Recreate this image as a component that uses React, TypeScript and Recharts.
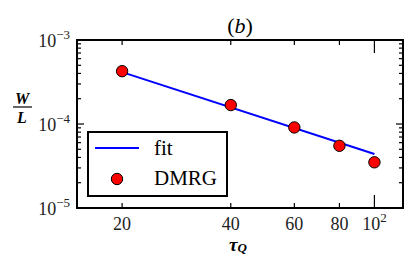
import { ComposedChart, Line, Scatter, XAxis, YAxis, ReferenceArea, Legend, Customized } from 'recharts';

// tau_Q values and measured W/L
const tauQ = [20, 40, 60, 80, 100];
const dmrgW = [4.25e-4, 1.68e-4, 9.1e-5, 5.5e-5, 3.5e-5];

// power-law fit, end points
const fitTau = [20, 100];
const fitW = [4.15e-4, 4.4e-5];

const legendOrder = ['fit', 'DMRG'];

const xTicks = [20, 40, 60, 80, 100];
const yDecades = [1e-5, 1e-4, 1e-3];
const yTicks = [
  1e-5, 2e-5, 3e-5, 4e-5, 5e-5, 6e-5, 7e-5, 8e-5, 9e-5,
  1e-4, 2e-4, 3e-4, 4e-4, 5e-4, 6e-4, 7e-4, 8e-4, 9e-4, 1e-3,
];

const dmrgData = tauQ.map((t, i) => ({ tau: t, w: dmrgW[i] }));
const fitData = fitTau.map((t, i) => ({ tau: t, w: fitW[i] }));

const W = 415;
const H = 269;
const PLOT_W = 326;
const PLOT_H = 168;
const FONT = '"Liberation Serif", serif';

function isDecade(v: number) {
  return yDecades.some((d) => Math.abs(v / d - 1) < 1e-6);
}

function XTick(props: any) {
  const { x, y, payload } = props;
  const v = payload.value;
  const major = v === 100;
  const len = major ? 13 : 5;
  return (
    <g>
      <line x1={x} y1={y} x2={x} y2={y - len} stroke="#000" strokeWidth={1.2} />
      <line x1={x} y1={y - PLOT_H} x2={x} y2={y - PLOT_H + len} stroke="#000" strokeWidth={1.2} />
      <text x={x} y={y + 16} textAnchor="middle" dominantBaseline="central" fontFamily={FONT} fontSize={18} fill="#222">
        {major ? (
          <>
            10<tspan dy={-7} fontSize={13}>2</tspan>
          </>
        ) : (
          v
        )}
      </text>
    </g>
  );
}

function YTick(props: any) {
  const { x, y, payload } = props;
  const v = payload.value;
  const major = isDecade(v);
  const len = major ? 7 : 4;
  const exp = Math.round(Math.log10(v));
  return (
    <g>
      <line x1={x} y1={y} x2={x + len} y2={y} stroke="#000" strokeWidth={1.2} />
      <line x1={x + PLOT_W} y1={y} x2={x + PLOT_W - len} y2={y} stroke="#000" strokeWidth={1.2} />
      {major && (
        <text x={x - 7} y={y + 1} textAnchor="end" dominantBaseline="central" fontFamily={FONT} fontSize={18} fill="#222">
          10<tspan dy={-7} fontSize={13}>{'\u2212' + Math.abs(exp)}</tspan>
        </text>
      )}
    </g>
  );
}

function Labels() {
  return (
    <g fontFamily={FONT} fill="#000">
      <text x={240} y={25} textAnchor="middle" dominantBaseline="central" fontSize={22}>
        (<tspan fontStyle="italic">b</tspan>)
      </text>
      <text x={238} y={244} textAnchor="middle" dominantBaseline="central" fontSize={19} fontWeight="bold" fontStyle="italic">
        τ<tspan dy={3} fontSize={13}>Q</tspan>
      </text>
      <text x={22} y={98} textAnchor="middle" dominantBaseline="central" fontSize={16} fontWeight="bold" fontStyle="italic">
        W
      </text>
      <line x1={13} y1={107} x2={32} y2={107} stroke="#000" strokeWidth={1.2} />
      <text x={22} y={117} textAnchor="middle" dominantBaseline="central" fontSize={16} fontWeight="bold" fontStyle="italic">
        L
      </text>
    </g>
  );
}

function LegendBox({ payload }: any) {
  const items = [...(payload ?? [])].sort(
    (a: any, b: any) => legendOrder.indexOf(a.value) - legendOrder.indexOf(b.value),
  );
  return (
    <div
      style={{
        position: 'relative',
        boxSizing: 'border-box',
        width: 141,
        height: 66,
        border: '2px solid #000',
        background: '#fff',
        fontFamily: FONT,
        fontSize: 21,
        color: '#000',
      }}
    >
      {items.map((item: any, i: number) => (
        <div key={item.value} style={{ position: 'absolute', left: 0, top: i * 30, height: 30, width: 137 }}>
          <svg width={50} height={30} style={{ position: 'absolute', left: 4, top: 0 }}>
            {item.type === 'line' ? (
              <line x1={2} y1={15} x2={46} y2={15} stroke={item.color} strokeWidth={2} />
            ) : (
              <circle cx={24} cy={16} r={5.7} fill="#ff0000" stroke="#000" strokeWidth={1} />
            )}
          </svg>
          <span style={{ position: 'absolute', left: 65, top: 0, lineHeight: '30px' }}>{item.value}</span>
        </div>
      ))}
    </div>
  );
}

export default function App() {
  return (
    <div>
      <style>{'body{margin:0}'}</style>
      <ComposedChart width={W} height={H} margin={{ top: 40, right: 12, left: 0, bottom: 0 }}>
        <XAxis
          dataKey="tau"
          type="number"
          scale="log"
          domain={[15, 120]}
          allowDataOverflow
          ticks={xTicks}
          interval={0}
          height={61}
          axisLine={false}
          tickLine={false}
          tickSize={0}
          tickMargin={0}
          tick={<XTick />}
        />
        <YAxis
          type="number"
          scale="log"
          domain={[1e-5, 1e-3]}
          allowDataOverflow
          ticks={yTicks}
          interval={0}
          width={77}
          axisLine={false}
          tickLine={false}
          tickSize={0}
          tickMargin={0}
          tick={<YTick />}
        />
        <Line
          data={fitData}
          dataKey="w"
          name="fit"
          type="linear"
          stroke="#0000ff"
          strokeWidth={2}
          dot={false}
          legendType="line"
          isAnimationActive={false}
        />
        <Scatter
          data={dmrgData}
          dataKey="w"
          name="DMRG"
          fill="#ff0000"
          legendType="circle"
          isAnimationActive={false}
          shape={(p: any) => <circle cx={p.cx} cy={p.cy} r={5.7} fill="#ff0000" stroke="#000" strokeWidth={1} />}
        />
        <ReferenceArea x1={15} x2={120} y1={1e-5} y2={1e-3} fill="none" fillOpacity={0} stroke="#000" strokeWidth={2} />
        <Legend
          layout="vertical"
          align="center"
          verticalAlign="middle"
          wrapperStyle={{ left: 87, top: 131, width: 141, height: 66 }}
          content={<LegendBox />}
        />
        <Customized component={<Labels />} />
      </ComposedChart>
    </div>
  );
}
